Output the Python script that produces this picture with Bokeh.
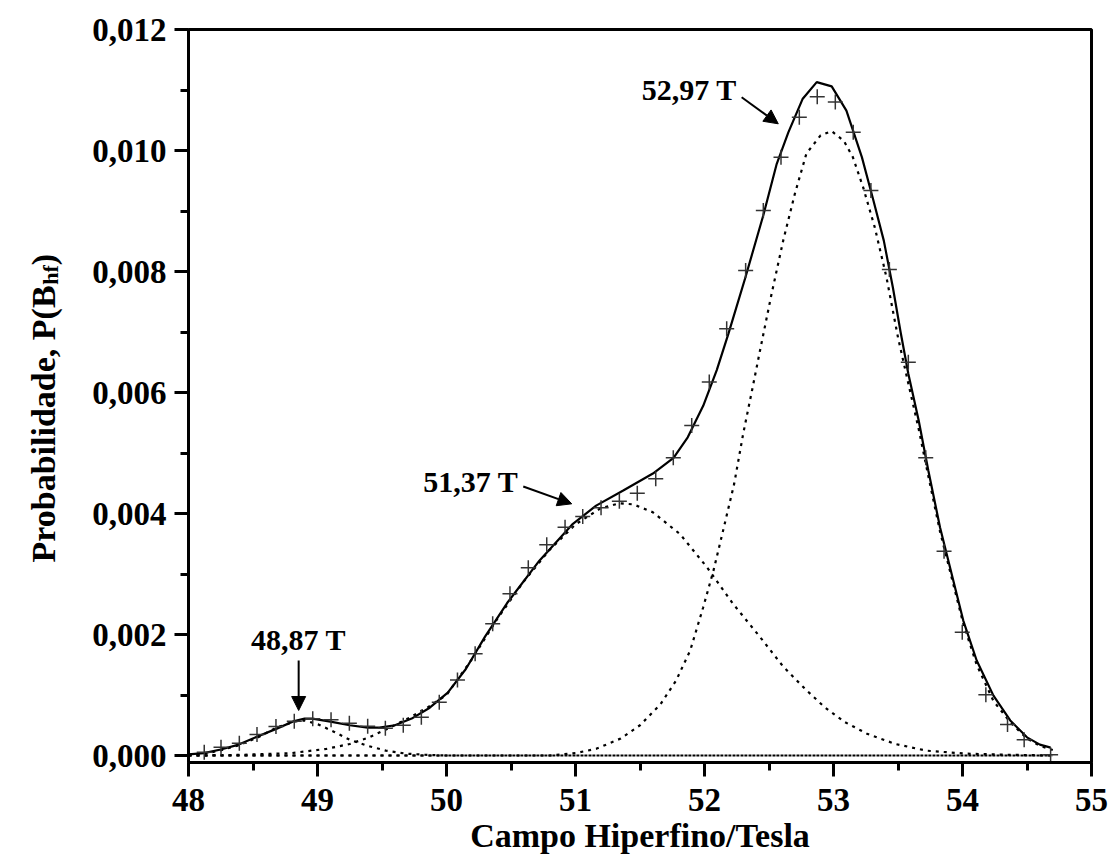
import numpy as np
from bokeh.plotting import figure
from bokeh.layouts import row
from bokeh.models import (Range1d, FixedTicker, CustomJSTickFormatter,
                          Label, Arrow, NormalHead)
from bokeh.core.properties import value
from bokeh.embed import file_html
from bokeh.resources import INLINE

FONT = "Liberation Serif"

# ---------------- data ----------------
data_x = [48.122, 48.252, 48.394, 48.531, 48.678, 48.820, 48.963, 49.105, 49.247, 49.389,
          49.526, 49.665, 49.805, 49.944, 50.085, 50.222, 50.358, 50.492, 50.634, 50.777,
          50.919, 51.056, 51.198, 51.340, 51.479, 51.622, 51.758, 51.901, 52.037, 52.172,
          52.319, 52.456, 52.593, 52.735, 52.874, 53.014, 53.153, 53.290, 53.433, 53.580,
          53.715, 53.857, 53.998, 54.181, 54.349, 54.478, 54.683]
data_y = [0.000055, 0.000137, 0.000203, 0.000347, 0.000479, 0.000567, 0.000607, 0.000590, 0.000534, 0.000484,
          0.000451, 0.000501, 0.000633, 0.000881, 0.001248, 0.001681, 0.002177, 0.002673, 0.003102, 0.003483,
          0.003774, 0.003950, 0.004094, 0.004203, 0.004336, 0.004574, 0.004921, 0.005455, 0.006174, 0.007053,
          0.008017, 0.009008, 0.009890, 0.010550, 0.010890, 0.010800, 0.010300, 0.009339, 0.008033, 0.006501,
          0.004921, 0.003377, 0.002038, 0.001003, 0.000512, 0.000260, 0.000012]

fit_x = [48.00, 48.12, 48.25, 48.39, 48.53, 48.68, 48.82, 48.90, 48.96, 49.10,
         49.25, 49.39, 49.48, 49.60, 49.73, 49.87, 50.01, 50.15, 50.30, 50.47,
         50.72, 50.98, 51.16, 51.37, 51.60, 51.76, 51.87, 51.99, 52.095, 52.185,
         52.314, 52.456, 52.56, 52.65, 52.76, 52.87, 52.986, 53.10, 53.22, 53.31,
         53.39, 53.46, 53.52, 53.58, 53.66, 53.735, 53.826, 53.916, 54.006, 54.11,
         54.24, 54.37, 54.50, 54.60, 54.683]
fit_y = [0.00002, 0.00004, 0.00010, 0.00018, 0.00031, 0.00044, 0.00057, 0.00061, 0.00061, 0.00056,
         0.00050, 0.00046, 0.00046, 0.00050, 0.00061, 0.00079, 0.00104, 0.00143, 0.00197, 0.00252,
         0.00322, 0.00383, 0.00413, 0.00438, 0.00466, 0.00492, 0.00526, 0.00578, 0.00637, 0.00697,
         0.00788, 0.00893, 0.00978, 0.01030, 0.01085, 0.01113, 0.01106, 0.01066, 0.00989, 0.00917,
         0.00851, 0.00774, 0.00700, 0.00631, 0.00554, 0.00471, 0.00377, 0.00300, 0.00223, 0.00157,
         0.00099, 0.00058, 0.00030, 0.00018, 0.00013]

comp1_x = [48.00, 48.12, 48.24, 48.39, 48.54, 48.68, 48.82, 48.90, 49.01, 49.13,
           49.25, 49.39, 49.53, 49.69, 49.85, 50.00, 51.00, 54.70]
comp1_y = [0.00001, 0.00003, 0.00008, 0.00017, 0.00030, 0.00046, 0.00056, 0.00058, 0.00051, 0.00039,
           0.00026, 0.00016, 0.00008, 0.00003, 0.00001, 0.00000, 0.00000, 0.00000]

comp2_x = [48.00, 48.40, 48.80, 49.07, 49.25, 49.40, 49.55, 49.70, 49.85, 50.00,
           50.20, 50.40, 50.60, 50.80, 51.00, 51.19, 51.34, 51.45, 51.60, 51.81,
           52.02, 52.22, 52.43, 52.61, 52.78, 52.93, 53.09, 53.26, 53.48, 53.72,
           54.03, 54.40, 54.70]
comp2_y = [0.00000, 0.00001, 0.00004, 0.00011, 0.00019, 0.00030, 0.00045, 0.00061, 0.00079, 0.00100,
           0.00160, 0.00228, 0.00288, 0.00340, 0.00382, 0.00408, 0.00417, 0.00415, 0.00402, 0.00366,
           0.00311, 0.00251, 0.00196, 0.00147, 0.00110, 0.00080, 0.00055, 0.00036, 0.00019, 0.00008,
           0.00003, 0.00001, 0.00000]

comp3_x = [48.00, 50.80, 51.00, 51.16, 51.35, 51.50, 51.66, 51.78, 51.89, 51.99,
           52.07, 52.15, 52.23, 52.30, 52.37, 52.43, 52.52, 52.61, 52.70, 52.79,
           52.90, 52.986, 53.08, 53.15, 53.23, 53.32, 53.41, 53.50, 53.58, 53.66,
           53.735, 53.826, 53.916, 54.006, 54.11, 54.24, 54.37, 54.50, 54.60, 54.70]
comp3_y = [0.00000, 0.00000, 0.00004, 0.00011, 0.00028, 0.00050, 0.00085, 0.00124, 0.00174, 0.00245,
           0.00306, 0.00377, 0.00449, 0.00532, 0.00605, 0.00669, 0.00763, 0.00851, 0.00928, 0.00995,
           0.01025, 0.01032, 0.01016, 0.00989, 0.00939, 0.00873, 0.00791, 0.00691, 0.00615, 0.00540,
           0.00462, 0.00370, 0.00294, 0.00218, 0.00150, 0.00090, 0.00055, 0.00028, 0.00016, 0.00009]

base_x = [48.00, 54.70]
base_y = [0.0, 0.0]

x_ticks = [48, 49, 50, 51, 52, 53, 54, 55]
x_minor = [48.5, 49.5, 50.5, 51.5, 52.5, 53.5, 54.5]
y_ticks = [0.0, 0.002, 0.004, 0.006, 0.008, 0.010, 0.012]
y_minor = [0.001, 0.003, 0.005, 0.007, 0.009, 0.011]

peak_texts = ["48,87 T", "51,37 T", "52,97 T"]
x_title = "Campo Hiperfino/Tesla"
y_title_parts = ["Probabilidade, P(B", "hf", ")"]

LEFT_W = 80
FRAME_TOP, FRAME_BOTTOM = 29, 762   # page pixels of the plot frame
H = 864

# ---------------- main figure ----------------
p = figure(width=1112 - LEFT_W, height=H,
           x_range=Range1d(48, 55), y_range=Range1d(-0.0001157, 0.012),
           output_backend="svg", toolbar_location=None,
           min_border_left=188 - LEFT_W, min_border_right=21,
           min_border_top=FRAME_TOP, min_border_bottom=H - FRAME_BOTTOM)
p.grid.visible = False
p.outline_line_color = "black"
p.outline_line_width = 3
p.background_fill_color = "white"
p.border_fill_color = "white"


def style_axis(ax):
    ax.axis_line_width = 3
    ax.axis_line_color = "black"
    ax.major_tick_in = 0
    ax.minor_tick_in = 0
    ax.major_tick_out = 14
    ax.minor_tick_out = 8
    ax.major_tick_line_width = 3
    ax.minor_tick_line_width = 3
    ax.major_tick_line_color = "black"
    ax.minor_tick_line_color = "black"
    ax.major_label_text_font = FONT
    ax.major_label_text_font_style = "bold"
    ax.major_label_text_font_size = "33px"
    ax.major_label_text_color = "black"


xa = p.xaxis[0]
xa.ticker = FixedTicker(ticks=x_ticks, minor_ticks=x_minor)
style_axis(xa)
xa.major_label_standoff = 12
xa.axis_label = x_title
xa.axis_label_text_font = FONT
xa.axis_label_text_font_style = "bold"
xa.axis_label_text_font_size = "34px"
xa.axis_label_text_color = "black"
xa.axis_label_standoff = 3

ya = p.yaxis[0]
ya.ticker = FixedTicker(ticks=y_ticks, minor_ticks=y_minor)
ya.formatter = CustomJSTickFormatter(code="return tick.toFixed(3).replace('.', ',');")
style_axis(ya)
ya.major_label_standoff = 8
ya.major_label_orientation = "horizontal"

# ---------------- glyphs ----------------
dot = "3 5"
for cx, cy in [(base_x, base_y), (comp1_x, comp1_y), (comp2_x, comp2_y), (comp3_x, comp3_y)]:
    p.line(cx, cy, line_color="black", line_width=2.2, line_dash=dot)
p.line(fit_x, fit_y, line_color="black", line_width=2.2)
p.scatter(data_x, data_y, marker="cross", size=15, line_color="#333333", line_width=1.5)

# ---------------- annotations ----------------
label_pos = [(48.4845, 0.001914), (49.820, 0.004532), (51.513, 0.011011)]
for (lx, ly), t in zip(label_pos, peak_texts):
    p.add_layout(Label(x=lx, y=ly, text=t, text_align="left", text_baseline="middle",
                       text_font=FONT, text_font_style="bold", text_font_size="30px",
                       text_color="black"))

arrows = [(48.854, 0.00157, 48.854, 0.000744),
          (50.595, 0.004446, 50.971, 0.00416),
          (52.288, 0.010881, 52.572, 0.010441)]
for xs, ys, xe, ye in arrows:
    p.add_layout(Arrow(end=NormalHead(size=14, fill_color="black", line_color="black", line_width=1),
                       x_start=xs, y_start=ys, x_end=xe, y_end=ye,
                       line_color="black", line_width=2))

# ---------------- y-axis title panel (rotated text with subscript) ----------------
# its frame is aligned with the main frame by the row layout; y = page pixels from bottom
q = figure(width=LEFT_W, height=H, x_range=Range1d(0, LEFT_W),
           y_range=Range1d(H - FRAME_BOTTOM, H - FRAME_TOP),
           output_backend="svg", toolbar_location=None,
           min_border_left=0, min_border_right=0,
           min_border_top=FRAME_TOP, min_border_bottom=H - FRAME_BOTTOM,
           x_axis_location=None, y_axis_location=None)
q.grid.visible = False
q.outline_line_color = None
q.background_fill_color = "white"
q.border_fill_color = "white"

title_font = value(FONT)
q.text(x=[43], y=[H - 562], text=[y_title_parts[0]], angle=np.pi / 2,
       text_align="left", text_baseline="alphabetic", text_font=title_font,
       text_font_style="bold", text_font_size="34px", text_color="black")
q.text(x=[50], y=[H - 284.3], text=[y_title_parts[1]], angle=np.pi / 2,
       text_align="left", text_baseline="alphabetic", text_font=title_font,
       text_font_style="bold", text_font_size="22px", text_color="black")
q.text(x=[43], y=[H - 264.7], text=[y_title_parts[2]], angle=np.pi / 2,
       text_align="left", text_baseline="alphabetic", text_font=title_font,
       text_font_style="bold", text_font_size="34px", text_color="black")

layout = row(q, p, spacing=0)
open("out.html", "w").write(file_html(layout, INLINE))
